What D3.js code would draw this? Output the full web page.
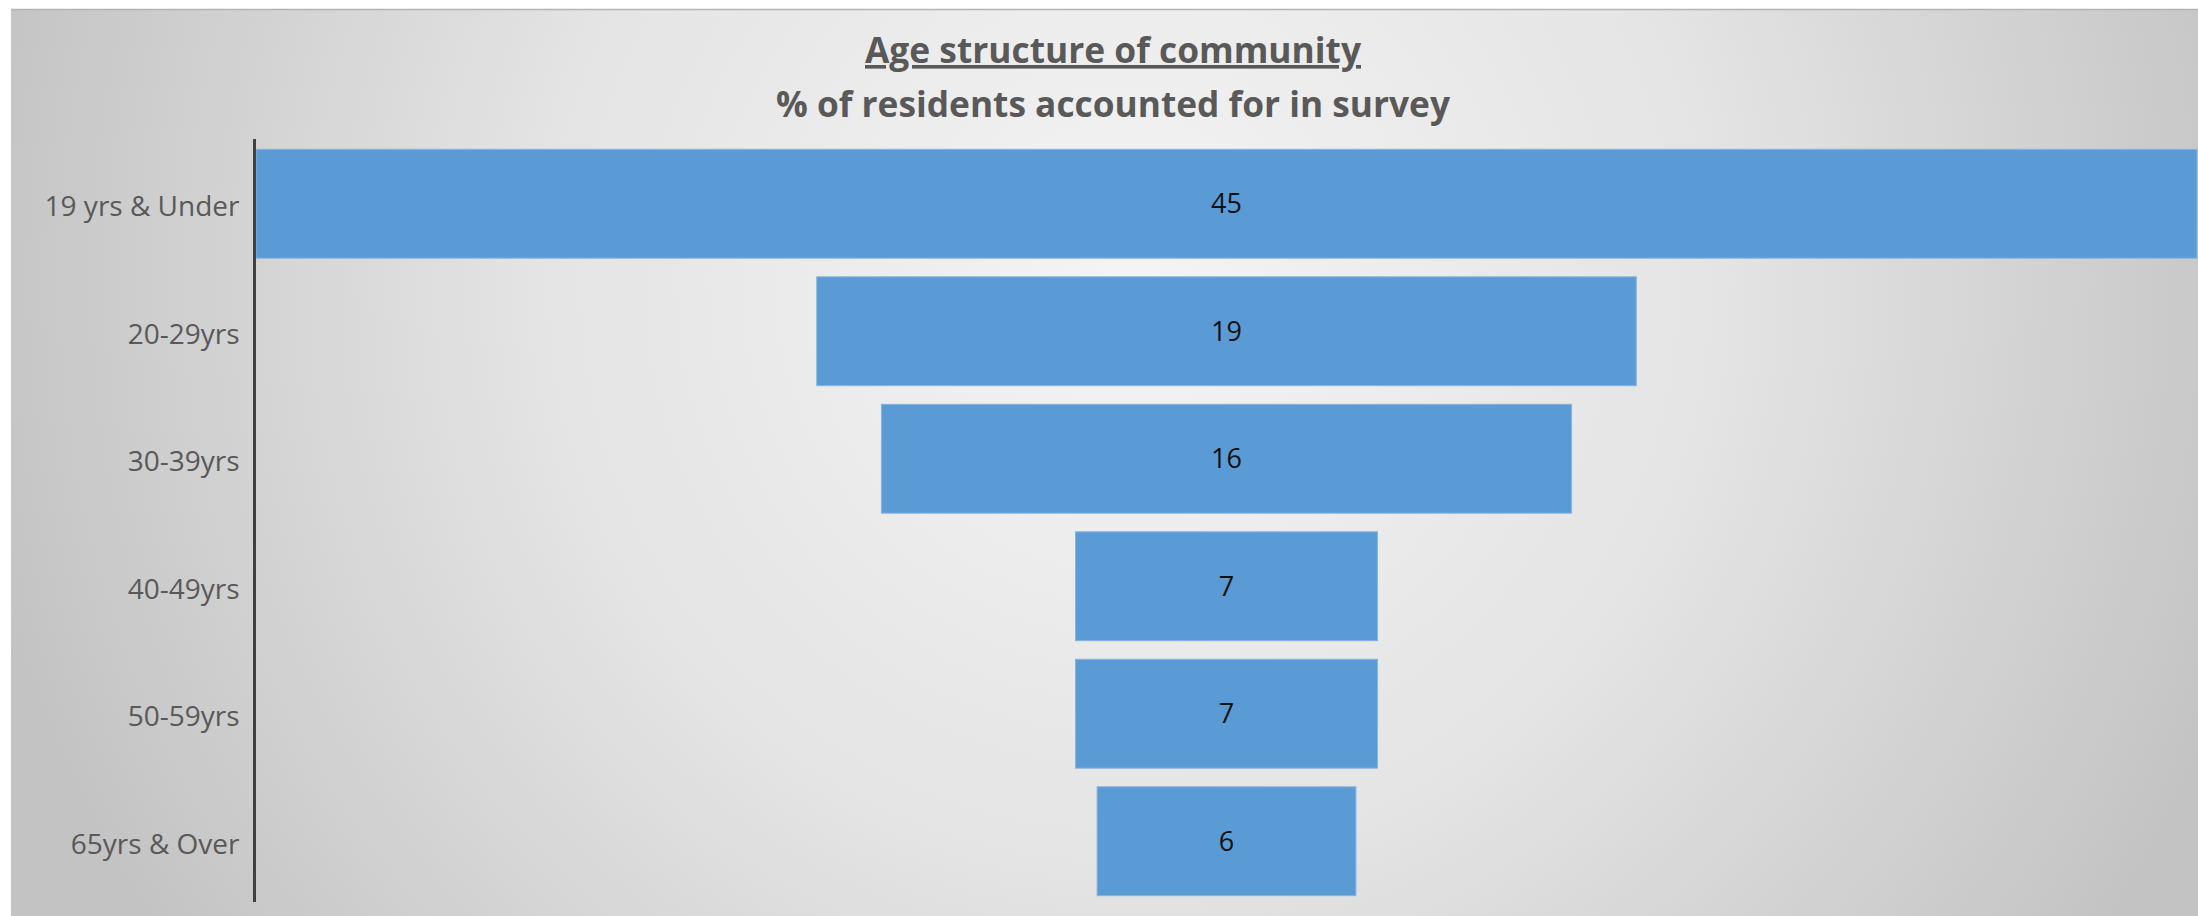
<!DOCTYPE html>
<html>
<head>
<meta charset="utf-8">
<script src="https://cdn.jsdelivr.net/npm/d3@7"></script>
<style>
  html, body { margin: 0; padding: 0; background: #ffffff; }
  svg { display: block; }
</style>
</head>
<body>
<div id="chart"></div>
<script>
// Age bands and share of surveyed residents (%)
const categories = ["19 yrs & Under", "20-29yrs", "30-39yrs", "40-49yrs", "50-59yrs", "65yrs & Over"];
const values = [45, 19, 16, 7, 7, 6];
const titleLines = ["Age structure of community", "% of residents accounted for in survey"];

const W = 2198, H = 916;
const font = "'Open Sans', 'DejaVu Sans', sans-serif";

const svg = d3.select("#chart").append("svg")
  .attr("width", W).attr("height", H);

// Soft radial backdrop of the chart area
const defs = svg.append("defs");
const grad = defs.append("radialGradient")
  .attr("id", "bg")
  .attr("gradientUnits", "userSpaceOnUse")
  .attr("cx", 1130).attr("cy", 280).attr("r", 1180);
grad.append("stop").attr("offset", "0").attr("stop-color", "#f4f4f4");
grad.append("stop").attr("offset", "0.5").attr("stop-color", "#e4e4e4");
grad.append("stop").attr("offset", "1").attr("stop-color", "#c3c3c3");

svg.append("rect")
  .attr("x", 11).attr("y", 9).attr("width", W - 11).attr("height", H - 9)
  .attr("fill", "url(#bg)");
svg.append("line")
  .attr("x1", 11).attr("x2", W).attr("y1", 9.5).attr("y2", 9.5)
  .attr("stroke", "#b4b4b4").attr("stroke-width", 1.5);

// Scales: symmetric value axis (funnel) and banded category axis
const axisX = 254.5;
const x = d3.scaleLinear().domain([-d3.max(values), d3.max(values)]).range([256, 2197]);
const y = d3.scaleBand().domain(categories).range([140, 905])
  .paddingInner(0.146).paddingOuter(0.073);

// Title
const title = svg.append("g").attr("font-family", font).attr("font-weight", 700).attr("fill", "#595959");
title.append("text")
  .attr("x", 1113).attr("y", 63)
  .attr("text-anchor", "middle")
  .attr("font-size", 36)
  .attr("text-decoration", "underline")
  .attr("textLength", 496).attr("lengthAdjust", "spacingAndGlyphs")
  .text(titleLines[0]);
title.append("text")
  .attr("x", 1113).attr("y", 117)
  .attr("text-anchor", "middle")
  .attr("font-size", 36)
  .attr("textLength", 674).attr("lengthAdjust", "spacingAndGlyphs")
  .text(titleLines[1]);

// Bars centred on the middle of the value scale
const rows = categories.map((c, i) => ({ cat: c, v: values[i] }));
svg.append("g").selectAll("rect").data(rows).join("rect")
  .attr("x", d => x(-d.v))
  .attr("width", d => x(d.v) - x(-d.v))
  .attr("y", d => y(d.cat))
  .attr("height", y.bandwidth())
  .attr("fill", "#5b9bd5")
  .attr("stroke", "#86b3df").attr("stroke-width", 1);

// Value labels
svg.append("g").selectAll("text").data(rows).join("text")
  .attr("x", x(0))
  .attr("y", d => y(d.cat) + y.bandwidth() / 2)
  .attr("dy", "0.36em")
  .attr("text-anchor", "middle")
  .attr("font-family", font).attr("font-size", 27)
  .attr("fill", "#111111")
  .text(d => d.v);

// Category axis
const yAxis = d3.axisLeft(y).tickSize(0).tickPadding(15);
const gAxis = svg.append("g").attr("transform", `translate(${axisX},0)`).call(yAxis);
gAxis.select(".domain").attr("stroke", "#404040").attr("stroke-width", 3)
  .attr("d", `M0,139V902`);
gAxis.selectAll(".tick text")
  .attr("font-family", font).attr("font-size", 28)
  .attr("fill", "#595959")
  .attr("dy", "0.45em");
</script>
</body>
</html>
